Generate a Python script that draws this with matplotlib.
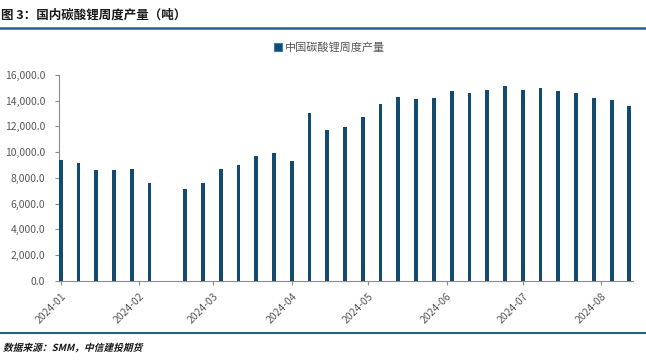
"""
国内碳酸锂周度产量 bar chart
"""
import datetime
import numpy as np
import matplotlib
matplotlib.use("Agg")
import matplotlib.pyplot as plt
import matplotlib.dates as mdates
from matplotlib.patches import Patch, PathPatch
from matplotlib.ticker import FuncFormatter
from matplotlib.textpath import TextPath
from matplotlib.font_manager import FontProperties
from matplotlib.transforms import Affine2D

plt.rcParams['font.family'] = ['Noto Sans CJK SC', 'DejaVu Sans']

# weekly dates (one week missing around Chinese New Year)
week_dates = ['2024-01-04', '2024-01-11', '2024-01-18', '2024-01-25', '2024-02-01',
              '2024-02-08', '2024-02-22', '2024-02-29', '2024-03-07', '2024-03-14',
              '2024-03-21', '2024-03-28', '2024-04-04', '2024-04-11', '2024-04-18',
              '2024-04-25', '2024-05-02', '2024-05-09', '2024-05-16', '2024-05-23',
              '2024-05-30', '2024-06-06', '2024-06-13', '2024-06-20', '2024-06-27',
              '2024-07-04', '2024-07-11', '2024-07-18', '2024-07-25', '2024-08-01',
              '2024-08-08', '2024-08-15']
output_t = [9430, 9170, 8650, 8620, 8700, 7610,
            7140, 7640, 8680, 8990, 9690, 9920, 9350, 13040, 11690,
            11950, 12750, 13740, 14260, 14130, 14230, 14750, 14620, 14830,
            15120, 14860, 14960, 14750, 14600, 14210, 14050, 13580]
tick_dates = ['2024-01-04', '2024-02-04', '2024-03-04', '2024-04-04',
              '2024-05-04', '2024-06-04', '2024-07-04', '2024-08-04']
series_name = '中国碳酸锂周度产量'

BAR_COLOR = '#124b72'
GRAY = '#595959'
LINE_BLUE = '#2b5f86'

dates = [datetime.datetime.strptime(d, '%Y-%m-%d') for d in week_dates]
ticks = [datetime.datetime.strptime(d, '%Y-%m-%d') for d in tick_dates]

fig = plt.figure(figsize=(6.46, 3.63), dpi=100)
ax = fig.add_axes([0.0912, 0.226, 0.889, 0.5675])

ax.bar(dates, output_t, width=1.5, color=BAR_COLOR, zorder=3)

ax.set_xlim(dates[0] - datetime.timedelta(days=0.7),
            dates[-1] + datetime.timedelta(days=1.5))
ax.set_ylim(0, 16000)
ax.set_yticks(np.arange(0, 16001, 2000))
ax.yaxis.set_major_formatter(FuncFormatter(lambda v, p: '{:,.1f}'.format(v)))

ax.set_xticks(ticks)
ax.xaxis.set_major_formatter(mdates.DateFormatter('%Y-%m'))
plt.setp(ax.get_xticklabels(), rotation=45, ha='right', rotation_mode='anchor')

ax.tick_params(axis='both', colors='#8c8c8c', labelcolor=GRAY, labelsize=7.5,
               length=3, width=0.8)
ax.tick_params(axis='x', pad=4)
ax.tick_params(axis='y', pad=7)
for side in ['top', 'right']:
    ax.spines[side].set_visible(False)
for side in ['left', 'bottom']:
    ax.spines[side].set_color('#8c8c8c')
    ax.spines[side].set_linewidth(0.8)

# legend
handle = Patch(facecolor=BAR_COLOR, edgecolor='#3a7ab0', linewidth=0.8)
fig.legend([handle], [series_name], loc='center', bbox_to_anchor=(0.51, 0.868),
           frameon=False, fontsize=8, labelcolor=GRAY, handlelength=0.7,
           handleheight=0.7, handletextpad=0.3)

# header / footer
fig.text(0.002, 0.958, '图 3：国内碳酸锂周度产量（吨）', fontsize=9,
         fontweight='bold', color='#1a1a1a', va='center', ha='left')
fig.add_artist(plt.Line2D([0, 1], [0.922, 0.922], color=LINE_BLUE, lw=1.8,
                          transform=fig.transFigure))
fig.add_artist(plt.Line2D([0, 1], [0.083, 0.083], color=LINE_BLUE, lw=1.5,
                          transform=fig.transFigure))

# italic-looking source note (CJK font has no italic, so shear the glyphs)
src_path = TextPath((0, 0), '数据来源：SMM，中信建投期货', size=7 * 100 / 72,
                    prop=FontProperties(family='Noto Sans CJK SC', weight='bold'))
src_tf = Affine2D().skew_deg(14, 0).translate(3, 363 - 351)
fig.add_artist(PathPatch(src_path, transform=src_tf, facecolor='#1a1a1a',
                         edgecolor='none'))

fig.savefig('out.png', dpi=100)
